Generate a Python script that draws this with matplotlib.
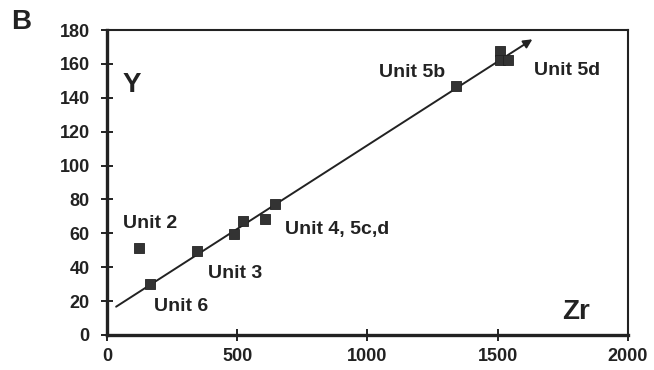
import matplotlib
matplotlib.use("Agg")
import matplotlib.pyplot as plt

plt.rcParams['font.family'] = ['Liberation Sans', 'DejaVu Sans']

# Zr vs Y concentrations
zr = [124, 165, 347, 488, 524, 608, 644, 1340, 1510, 1510, 1538]
y = [51.5, 30, 49.6, 59.6, 67.5, 68.5, 77.3, 147, 167.5, 162.5, 162.5]

# trend line (start, end) in Zr / Y
trend_zr = [35, 1633]
trend_y = [16.7, 174.5]

# unit labels
labels = ["Unit 2", "Unit 6", "Unit 3", "Unit 4, 5c,d", "Unit 5b", "Unit 5d"]
label_zr = [165, 286, 490, 885, 1172, 1766]
label_y = [66, 16.7, 36.4, 62, 155, 156]

x_ticks = [0, 500, 1000, 1500, 2000]
y_ticks = [0, 20, 40, 60, 80, 100, 120, 140, 160, 180]

fig = plt.figure(figsize=(6.54, 3.70), dpi=100)
ax = fig.add_axes([0.1636, 0.0946, 0.7966, 0.8243])
ax.set_xlim(0, 2000)
ax.set_ylim(0, 180)

ax.annotate("", xy=(trend_zr[1], trend_y[1]), xytext=(trend_zr[0], trend_y[0]),
            arrowprops=dict(arrowstyle='-|>', color='#222222', lw=1.4,
                            mutation_scale=13, shrinkA=0, shrinkB=0))
ax.scatter(zr, y, marker='s', s=60, color='#333333', edgecolor='#222222',
           linewidth=0.6, zorder=3)

for t, lx, ly in zip(labels, label_zr, label_y):
    ax.text(lx, ly, t, ha='center', va='center', fontsize=14,
            fontweight='bold', color='#222222')

ax.text(95, 147.6, "Y", ha='center', va='center', fontsize=20,
        fontweight='bold', color='#222222')
ax.text(1800, 13.8, "Zr", ha='center', va='center', fontsize=20,
        fontweight='bold', color='#222222')
fig.text(0.033, 0.94, "B", ha='center', va='center', fontsize=20,
         fontweight='bold', color='#222222')

ax.set_xticks(x_ticks)
ax.set_yticks(y_ticks)
ax.tick_params(direction='inout', length=9, width=1.4, colors='#222222',
               labelsize=13, pad=8)
ax.tick_params(axis='x', pad=5)
for lab in ax.get_xticklabels() + ax.get_yticklabels():
    lab.set_fontweight('bold')

ax.spines['left'].set_linewidth(2.4)
ax.spines['bottom'].set_linewidth(2.4)
ax.spines['top'].set_linewidth(1.5)
ax.spines['right'].set_linewidth(1.5)
for s in ax.spines.values():
    s.set_color('#222222')

fig.savefig("out.png", dpi=100, facecolor='white')
